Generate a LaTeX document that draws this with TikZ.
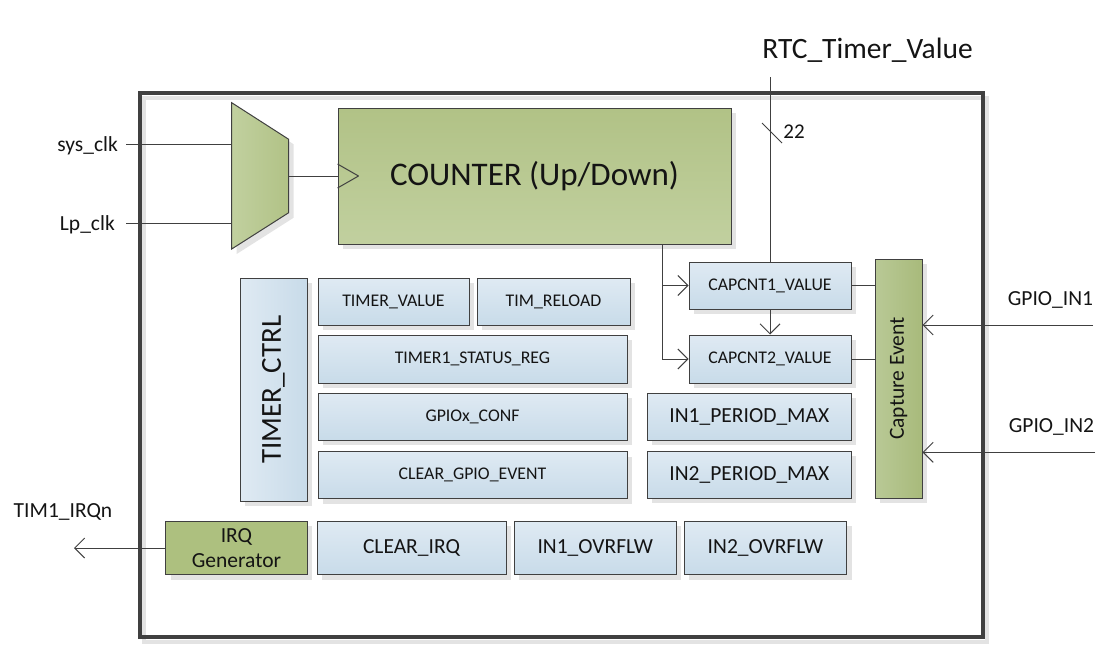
\documentclass[tikz,border=0pt]{standalone}
\usepackage{fontspec}
\setmainfont{Carlito}
\usepackage{graphicx}
\usetikzlibrary{arrows.meta,shadows}

\definecolor{regtop}{HTML}{DFEAF3}
\definecolor{regbot}{HTML}{C8DBE9}
\definecolor{grnlite}{HTML}{C1D09F}
\definecolor{grndark}{HTML}{B1C286}
\definecolor{caplite}{HTML}{B9C996}
\definecolor{capdark}{HTML}{A8BA7B}
\definecolor{irqgrn}{HTML}{ADC07F}
\definecolor{wirecol}{HTML}{404040}
\definecolor{shadecol}{HTML}{E3E3E3}
\definecolor{txtcol}{HTML}{141414}

\begin{document}
\begin{tikzpicture}[x=1pt,y=-1pt,text=txtcol,
  wire/.style={draw=wirecol,line width=1pt},
  >={Straight Barb[length=10pt,width=20pt]},
  blk/.style={wire,inner sep=0pt,drop shadow={shadow xshift=5pt,shadow yshift=-5pt,fill=shadecol,opacity=1}},
  reg/.style={blk,top color=regtop,bottom color=regbot,font=\fontsize{17.8}{20}\selectfont},
  bigreg/.style={reg,font=\fontsize{21.5}{25}\selectfont},
  lbl/.style={inner sep=0pt,font=\fontsize{21.5}{25}\selectfont}]
\useasboundingbox (0,0) rectangle (1114,659);

% outer frame
\draw[shadecol,line width=4pt] (144.2,97.5) rectangle (987.2,641.8);
\draw[wirecol,line width=4pt] (139.7,93) rectangle (982.7,637.3);

% clock mux
\coordinate (mux-a) at (231.7,144.3);
\coordinate (mux-b) at (231.7,223.3);
\coordinate (mux-out) at (288.7,176);
\draw[blk,left color=grnlite,right color=grndark]
  (231.7,102.7) -- (288.7,139.3) -- (288.7,212.7) -- (231.7,249) -- cycle;

\node[blk,top color=grndark,bottom color=grnlite,minimum width=393pt,minimum height=136pt,
  font=\fontsize{33}{36}\selectfont] (counter) at (534.5,176) {COUNTER (Up/Down)};

% registers
\node[reg,minimum width=162pt,minimum height=47pt] (capone) at (770,285.5) {CAPCNT1\_VALUE};
\node[reg,minimum width=162pt,minimum height=48pt] (captwo) at (770,359) {CAPCNT2\_VALUE};
\node[blk,left color=caplite,right color=capdark,minimum width=47pt,minimum height=239pt,
  font=\fontsize{21.5}{25}\selectfont] (capev) at (898.5,378.5) {\rotatebox{90}{Capture Event}};

\node[reg,left color=regtop,right color=regbot,minimum width=67pt,minimum height=223pt,
  font=\fontsize{29}{32}\selectfont] (timctrl) at (273.5,389.5) {\rotatebox{90}{TIMER\_CTRL}};
\node[reg,minimum width=151pt,minimum height=47pt] (timval) at (393.5,301.5) {TIMER\_VALUE};
\node[reg,minimum width=153pt,minimum height=47pt] (timrel) at (553.5,301.5) {TIM\_RELOAD};
\node[reg,minimum width=309pt,minimum height=48pt] (status) at (472.5,359) {TIMER1\_STATUS\_REG};
\node[reg,minimum width=309pt,minimum height=47pt] (gpioconf) at (472.5,416.5) {GPIOx\_CONF};
\node[reg,minimum width=309pt,minimum height=47pt] (clrgpio) at (472.5,475) {CLEAR\_GPIO\_EVENT};
\node[bigreg,minimum width=204pt,minimum height=47pt] (inoneper) at (749.3,416.8) {IN1\_PERIOD\_MAX};
\node[bigreg,minimum width=204pt,minimum height=47pt] (intwoper) at (749.3,474.8) {IN2\_PERIOD\_MAX};

\node[blk,fill=irqgrn,minimum width=141.6pt,minimum height=53.4pt,align=center,
  font=\fontsize{21.5}{25.5}\selectfont] (irqgen) at (236.5,548) {IRQ\\Generator};
\node[bigreg,minimum width=189pt,minimum height=53.4pt] (clrirq) at (411.5,548) {CLEAR\_IRQ};
\node[bigreg,minimum width=162pt,minimum height=53.4pt] (inoneov) at (595.3,548) {IN1\_OVRFLW};
\node[bigreg,minimum width=162.4pt,minimum height=53.4pt] (intwoov) at (765.5,548) {IN2\_OVRFLW};

% outside labels
\node[lbl,anchor=east] (sysclk) at (118,146) {sys\_clk};
\node[lbl,anchor=east] (lpclk) at (115,225) {Lp\_clk};
\node[inner sep=0pt,font=\fontsize{29.5}{32}\selectfont] (rtc) at (867.5,50) {RTC\_Timer\_Value};
\node[inner sep=0pt,font=\fontsize{21}{23}\selectfont] (width) at (794,132) {22};
\node[lbl] (gpioina) at (1050.5,300) {GPIO\_IN1};
\node[lbl] (gpioinb) at (1051.5,427) {GPIO\_IN2};
\node[lbl] (irqn) at (63,512) {TIM1\_IRQn};

\coordinate (sys-in) at (126,144.3);
\coordinate (lp-in) at (126,223.3);
\coordinate (rtc-in) at (770,77);
\coordinate (tap) at (662,244);
\coordinate (gpioa-in) at (1093,325);
\coordinate (gpiob-in) at (1095,452.3);
\coordinate (irq-out) at (74,548);

\path[wire]
(sys-in) edge (mux-a)
(lp-in) edge (mux-b)
(mux-out) edge (counter.west)
(rtc-in) edge (capone.north)
(762,123) edge (782,143)
(capone.east) edge (capone.east -| capev.west)
(captwo.east) edge (captwo.east -| capev.west)
([yshift=12pt]counter.west) edge ([xshift=21pt]counter.west)
([xshift=21pt]counter.west) edge ([yshift=-12pt]counter.west)
; %end path

\draw[wire,->] (capone.south) -- (captwo.north);
\draw[wire,->] (tap |- capone.west) -- (capone.west);
\draw[wire,->] (tap) |- (captwo.west);
\draw[wire,->] (gpioa-in) -- (gpioa-in -| capev.east);
\draw[wire,->] (gpiob-in) -- (gpiob-in -| capev.east);
\draw[wire,->] (irqgen.west) -- (irq-out);
\end{tikzpicture}
\end{document}
